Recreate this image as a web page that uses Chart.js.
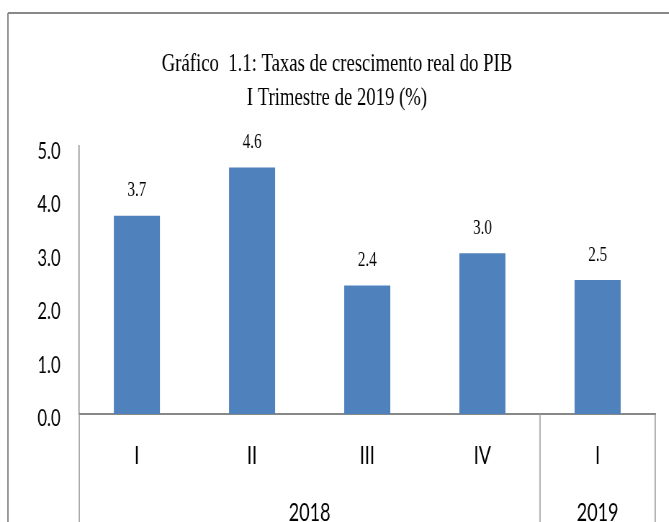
<!DOCTYPE html>
<html>
<head>
<meta charset="utf-8">
<script src="https://cdn.jsdelivr.net/npm/chart.js@4/dist/chart.umd.min.js"></script>
<style>
  html, body { margin: 0; padding: 0; background: #fff; overflow: hidden; }
  #wrap { width: 669px; height: 522px; overflow: hidden; position: relative; }
  /* the original is horizontally squeezed, so draw wide and compress */
  #chart { transform: scaleX(0.72); transform-origin: 0 0; display: block; }
</style>
</head>
<body>
<div id="wrap">
  <canvas id="chart" width="929" height="522"></canvas>
</div>
<script>
// Data
const quarters = ["I", "II", "III", "IV", "I"];
const growth = [3.7, 4.6, 2.4, 3.0, 2.5];
const years = ["2018", "2019"];
const quartersPerYear = [4, 1];
const yTicks = [0, 1, 2, 3, 4, 5];
const titleLines = [
  "Gráfico  1.1: Taxas de crescimento real do PIB",
  "I Trimestre de 2019 (%)",
];

const axisGray = "#888888";

// top/left frame lines of the chart box
const framePlugin = {
  id: "frame",
  beforeDraw(chart) {
    const ctx = chart.ctx;
    ctx.save();
    ctx.strokeStyle = axisGray;
    ctx.lineWidth = 2;
    ctx.beginPath();
    ctx.moveTo(11, 13);
    ctx.lineTo(chart.width, 13);
    ctx.moveTo(11, 13);
    ctx.lineTo(11, chart.height);
    ctx.stroke();
    ctx.restore();
  },
  // year row + separators under the category axis
  afterDraw(chart) {
    const ctx = chart.ctx;
    const x = chart.scales.x;
    const area = chart.chartArea;
    const half = (x.getPixelForValue(1) - x.getPixelForValue(0)) / 2;
    ctx.save();
    ctx.strokeStyle = "#999999";
    ctx.lineWidth = 1.5;
    ctx.fillStyle = "#000";
    ctx.font = "25px Lato";
    ctx.textAlign = "center";
    ctx.textBaseline = "middle";
    let start = 0;
    ctx.beginPath();
    ctx.moveTo(x.getPixelForValue(0) - half, area.bottom);
    ctx.lineTo(x.getPixelForValue(0) - half, chart.height);
    years.forEach((yr, i) => {
      const end = start + quartersPerYear[i] - 1;
      const right = x.getPixelForValue(end) + half;
      ctx.moveTo(right, area.bottom);
      ctx.lineTo(right, chart.height);
      const mid = (x.getPixelForValue(start) + x.getPixelForValue(end)) / 2;
      ctx.fillText(yr, mid, 513);
      start = end + 1;
    });
    ctx.stroke();
    ctx.restore();
  },
};

// value labels over the bars
const valueLabels = {
  id: "valueLabels",
  afterDatasetsDraw(chart) {
    const ctx = chart.ctx;
    const meta = chart.getDatasetMeta(0);
    ctx.save();
    ctx.fillStyle = "#000";
    ctx.font = "21px 'Liberation Serif'";
    ctx.textAlign = "center";
    ctx.textBaseline = "middle";
    meta.data.forEach((bar, i) => {
      ctx.fillText(growth[i].toFixed(1), bar.x, bar.y - 25);
    });
    ctx.restore();
  },
};

new Chart(document.getElementById("chart"), {
  type: "bar",
  data: {
    labels: quarters,
    datasets: [
      {
        data: growth,
        backgroundColor: "#4F81BD",
        borderWidth: 0,
        barPercentage: 0.4,
        categoryPercentage: 1,
      },
    ],
  },
  options: {
    responsive: false,
    animation: false,
    devicePixelRatio: 1,
    layout: { padding: { top: 13, left: 26, right: 19, bottom: 24 } },
    plugins: {
      legend: { display: false },
      tooltip: { enabled: false },
      title: {
        display: true,
        text: titleLines,
        color: "#000",
        font: { family: "'Liberation Serif'", size: 26, weight: "normal", lineHeight: 1.31 },
        padding: { top: 34, bottom: 31 },
      },
    },
    scales: {
      x: {
        grid: { display: false, drawTicks: false },
        border: { display: true, color: axisGray, width: 2 },
        ticks: {
          color: "#000",
          font: { family: "Lato", size: 25 },
          padding: 27,
          maxRotation: 0,
        },
      },
      y: {
        min: 0,
        max: 5,
        afterBuildTicks: (axis) => {
          axis.ticks = yTicks.map((v) => ({ value: v }));
        },
        grid: { display: false, drawTicks: false },
        border: { display: true, color: axisGray, width: 1.5 },
        ticks: {
          color: "#000",
          font: { family: "Lato", size: 23 },
          padding: 26,
          labelOffset: 5,
          callback: (v) => Number(v).toFixed(1),
        },
      },
    },
  },
  plugins: [framePlugin, valueLabels],
});
</script>
</body>
</html>
